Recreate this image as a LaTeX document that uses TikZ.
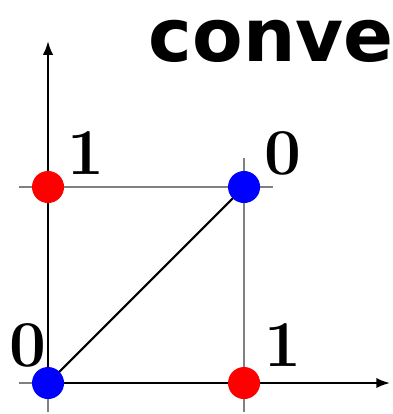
\documentclass[tikz,border=0pt]{standalone}
\usepackage{fontspec}
\usepackage{tikz}
\usetikzlibrary{arrows.meta,positioning}
\newfontfamily\titlefont{DejaVu Sans}
\definecolor{PtBlue}{HTML}{0000FF}
\definecolor{PtRed}{HTML}{FF0000}

\begin{document}
\begin{tikzpicture}[
        x=2cm,y=2cm,
        grid/.style={draw=gray,line width=0.35pt},
        axis/.style={-{Latex[length=4pt,width=3pt]},line width=0.65pt},
        dot/.style={circle,inner sep=0pt,minimum size=9.3pt},
        val/.style={font=\fontsize{19}{21}\selectfont\bfseries}
      ]
      \useasboundingbox (-0.245,-0.158) rectangle (1.755,1.954);
      \coordinate (o) at (0,0);
      \coordinate (a) at (1,0);
      \coordinate (b) at (0,1);
      \coordinate (c) at (1,1);
      \coordinate (xend) at (1.745,0);
      \coordinate (yend) at (0,1.745);

      % grid
      \draw[grid] (-0.15,0) -- (1.15,0);
      \draw[grid] (-0.15,1) -- (1.15,1);
      \draw[grid] (0,-0.15) -- (0,1.15);
      \draw[grid] (1,-0.15) -- (1,1.15);

      \draw[axis] (o) -- (xend);
      \draw[axis] (o) -- (yend);
      \draw[line width=0.6pt] (o) -- (c);

      \node[dot,fill=PtBlue] (p00) at (o) {};
      \node[dot,fill=PtRed] (p10) at (a) {};
      \node[dot,fill=PtRed] (p01) at (b) {};
      \node[dot,fill=PtBlue] (p11) at (c) {};

      \node[val] (v00) at (-0.102,0.194) {0};
      \node[val] (v10) at (1.199,0.194) {1};
      \node[val] (v01) at (0.194,1.173) {1};
      \node[val] (v11) at (1.199,1.173) {0};

      \node[anchor=base west,inner sep=0pt,font=\titlefont\fontsize{21.4}{25}\selectfont\bfseries] (title) at (0.51,1.638) {conve};
    \end{tikzpicture}
\end{document}
